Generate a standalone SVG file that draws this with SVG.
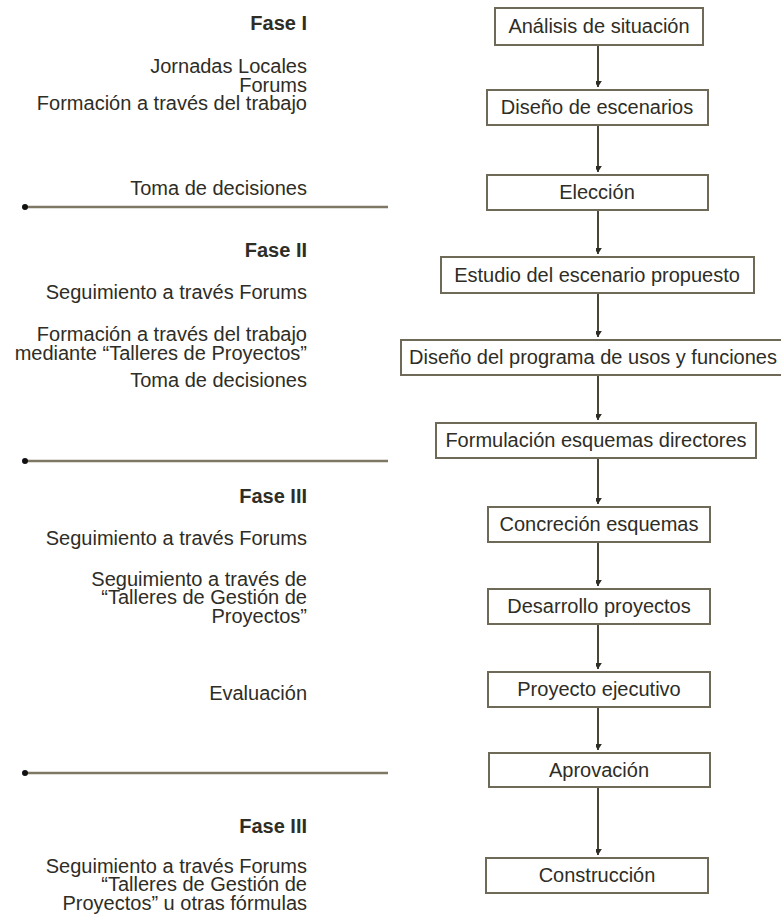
<svg xmlns="http://www.w3.org/2000/svg" width="781" height="920" viewBox="0 0 781 920">
<defs>
<style>
.box{fill:#ffffff;stroke:#6f6a57;stroke-width:2}
.t{font-family:"Liberation Sans",Arial,sans-serif;font-size:20px;fill:#2e2d26}
.c{text-anchor:middle}
.r{text-anchor:end}
.b{font-weight:bold}
.con{stroke:#4a4738;stroke-width:2;fill:none;marker-end:url(#ah)}
.sep{stroke:#7d7763;stroke-width:2.5}
</style>
<marker id="ah" markerUnits="userSpaceOnUse" markerWidth="12" markerHeight="16" viewBox="-6 -14 12 16" refX="0" refY="0" orient="auto">
<path d="M-4,-12 L4,-12 L0,-6 Z M-4.5,-7 L4.5,-7 L0,0 Z" fill="#2e2d26" transform="rotate(-90)"/>
</marker>
</defs>
<rect width="781" height="920" fill="#ffffff"/>

<g id="connectors">
<line class="con" x1="598" y1="45" x2="598" y2="87"/>
<line class="con" x1="598" y1="125" x2="598" y2="172"/>
<line class="con" x1="598" y1="210" x2="598" y2="254"/>
<line class="con" x1="598" y1="293" x2="598" y2="337"/>
<line class="con" x1="598" y1="375" x2="598" y2="420"/>
<line class="con" x1="598" y1="458" x2="598" y2="504"/>
<line class="con" x1="598" y1="542" x2="598" y2="586"/>
<line class="con" x1="598" y1="624" x2="598" y2="669"/>
<line class="con" x1="598" y1="707" x2="598" y2="750"/>
<line class="con" x1="598" y1="787" x2="598" y2="855"/>
</g>

<g id="separators">
<line class="sep" x1="25" y1="207" x2="388" y2="207"/>
<circle cx="25" cy="207" r="3" fill="#111"/>
<line class="sep" x1="25" y1="461" x2="388" y2="461"/>
<circle cx="25" cy="461" r="3" fill="#111"/>
<line class="sep" x1="25" y1="773" x2="388" y2="773"/>
<circle cx="25" cy="773" r="3" fill="#111"/>
</g>

<g id="n1"><rect class="box" x="495" y="8" width="208" height="37"/><text class="t c" x="599" y="33">Análisis de situación</text></g>
<g id="n2"><rect class="box" x="487" y="90" width="221" height="35"/><text class="t c" x="597" y="114">Diseño de escenarios</text></g>
<g id="n3"><rect class="box" x="487" y="175" width="221" height="35"/><text class="t c" x="597" y="199">Elección</text></g>
<g id="n4"><rect class="box" x="441" y="257" width="313" height="36"/><text class="t c" x="597" y="282">Estudio del escenario propuesto</text></g>
<g id="n5"><rect class="box" x="401" y="340" width="384" height="35"/><text class="t" x="409" y="364">Diseño del programa de usos y funciones</text></g>
<g id="n6"><rect class="box" x="436" y="423" width="320" height="35"/><text class="t c" x="596" y="447">Formulación esquemas directores</text></g>
<g id="n7"><rect class="box" x="488" y="507" width="222" height="35"/><text class="t c" x="599" y="531">Concreción esquemas</text></g>
<g id="n8"><rect class="box" x="488" y="589" width="222" height="35"/><text class="t c" x="599" y="613">Desarrollo proyectos</text></g>
<g id="n9"><rect class="box" x="488" y="672" width="222" height="35"/><text class="t c" x="599" y="696">Proyecto ejecutivo</text></g>
<g id="n10"><rect class="box" x="489" y="753" width="221" height="34"/><text class="t c" x="599" y="777">Aprovación</text></g>
<g id="n11"><rect class="box" x="486" y="858" width="222" height="35"/><text class="t c" x="597" y="882">Construcción</text></g>

<g id="left-labels">
<text class="t r b" x="307" y="30">Fase I</text>
<text class="t r" x="307" y="73">Jornadas Locales</text>
<text class="t r" x="307" y="92">Forums</text>
<text class="t r" x="307" y="110">Formación a través del trabajo</text>
<text class="t r" x="307" y="195">Toma de decisiones</text>

<text class="t r b" x="307" y="257">Fase II</text>
<text class="t r" x="307" y="299">Seguimiento a través Forums</text>
<text class="t r" x="307" y="341">Formación a través del trabajo</text>
<text class="t r" x="307" y="360">mediante “Talleres de Proyectos”</text>
<text class="t r" x="307" y="387">Toma de decisiones</text>

<text class="t r b" x="307" y="503">Fase III</text>
<text class="t r" x="307" y="545">Seguimiento a través Forums</text>
<text class="t r" x="307" y="586">Seguimiento a través de</text>
<text class="t r" x="307" y="604">“Talleres de Gestión de</text>
<text class="t r" x="307" y="623">Proyectos”</text>
<text class="t r" x="307" y="700">Evaluación</text>

<text class="t r b" x="307" y="833">Fase III</text>
<text class="t r" x="307" y="873">Seguimiento a través Forums</text>
<text class="t r" x="307" y="891">“Talleres de Gestión de</text>
<text class="t r" x="307" y="910">Proyectos” u otras fórmulas</text>
</g>
</svg>
